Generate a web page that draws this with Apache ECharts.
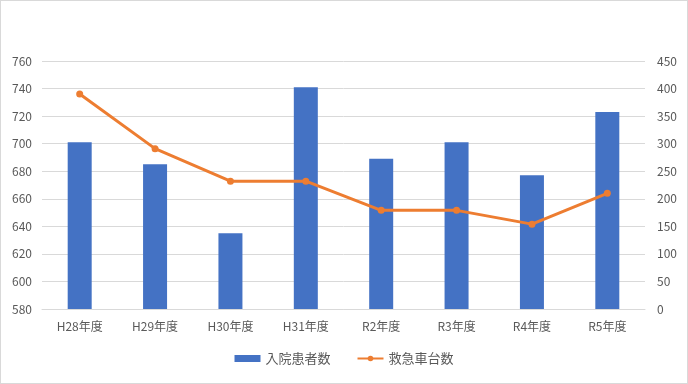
<!DOCTYPE html>
<html><head><meta charset="utf-8">
<script src="https://cdn.jsdelivr.net/npm/echarts@6/dist/echarts.min.js"></script>
<style>html,body{margin:0;padding:0;background:#fff}#c{width:688px;height:384px;box-sizing:border-box;border:1px solid #d9d9d9}</style>
</head><body><div id="c"></div>
<script>
const categories = ['H28年度','H29年度','H30年度','H31年度','R2年度','R3年度','R4年度','R5年度'];
const patients = [701, 685, 635, 741, 689, 701, 677, 723];
const ambulances = [390, 291, 232, 232, 179, 179, 154, 210];
const leftTicks = [580, 760, 20];
const rightTicks = [0, 450, 50];
const font = '"Noto Sans CJK JP", "Noto Sans", sans-serif';
const chart = echarts.init(document.getElementById('c'));
chart.setOption({
  animation: false,
  textStyle: {fontFamily: font},
  grid: {left: 41, right: 42, top: 60, bottom: 74, containLabel: false},
  legend: {
    bottom: 13, left: 'center', itemGap: 26, itemWidth: 26, itemHeight: 7,
    textStyle: {color: '#595959', fontSize: 13, fontFamily: font},
    data: [{name: '入院患者数', icon: 'rect'}, {name: '救急車台数'}]
  },
  xAxis: {
    type: 'category', data: categories,
    axisLine: {lineStyle: {color: '#d9d9d9'}}, axisTick: {show: false},
    axisLabel: {color: '#595959', fontSize: 12, margin: 11, fontFamily: font}
  },
  yAxis: [
    {type: 'value', min: leftTicks[0], max: leftTicks[1], interval: leftTicks[2],
     axisLine: {show: false}, axisTick: {show: false},
     axisLabel: {color: '#595959', fontSize: 12, margin: 10, fontFamily: font},
     splitLine: {lineStyle: {color: '#d9d9d9'}}},
    {type: 'value', min: rightTicks[0], max: rightTicks[1], interval: rightTicks[2],
     axisLine: {show: false}, axisTick: {show: false},
     axisLabel: {color: '#595959', fontSize: 12, margin: 12, fontFamily: font},
     splitLine: {show: false}}
  ],
  series: [
    {name: '入院患者数', type: 'bar', yAxisIndex: 0, data: patients, barWidth: 24,
     itemStyle: {color: '#4472C4'}},
    {name: '救急車台数', type: 'line', yAxisIndex: 1, data: ambulances,
     symbol: 'circle', symbolSize: 7,
     lineStyle: {color: '#ED7D31', width: 3}, itemStyle: {color: '#ED7D31'}}
  ]
});
</script></body></html>
